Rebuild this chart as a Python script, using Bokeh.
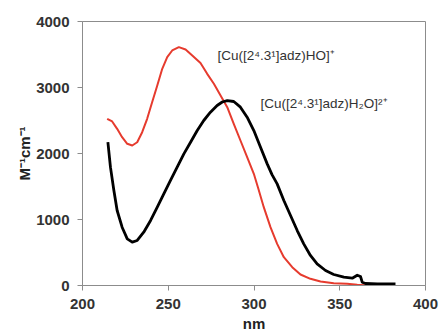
from bokeh.plotting import figure
from bokeh.models import Label, FixedTicker, Range1d
from bokeh.embed import file_html
from bokeh.resources import INLINE

# Red curve: [Cu([2^4.3^1]adz)HO]+
red_nm = [214.4, 217.3, 220.2, 223.1, 226.1, 229.0, 231.9, 234.8, 237.7, 240.6, 243.6, 246.5,
          249.4, 252.3, 256.2, 260.1, 264.0, 268.8, 272.7, 276.6, 280.5, 284.4, 288.2, 292.1,
          296.0, 299.9, 302.5, 305.7, 309.6, 313.5, 317.4, 322.3, 327.1, 332.9, 338.8, 346.5,
          354.3, 360.2, 366.0]
red_eps = [2526, 2485, 2374, 2247, 2147, 2121, 2171, 2323, 2526, 2777, 3030, 3283,
           3459, 3561, 3611, 3576, 3485, 3370, 3207, 3056, 2879, 2702, 2450, 2197,
           1944, 1692, 1470, 1187, 884, 631, 429, 278, 167, 101, 61, 35,
           25, 10, 0]

# Black curve: [Cu([2^4.3^1]adz)H2O]2+
blk_nm = [214.8, 216.3, 218.3, 220.2, 223.1, 226.1, 229.0, 231.9, 235.7, 239.7, 243.6, 247.4,
          251.3, 255.2, 259.1, 263.0, 266.9, 270.7, 274.6, 278.5, 281.5, 284.4, 288.2, 292.1,
          296.0, 299.9, 303.8, 307.7, 310.5, 313.5, 317.4, 321.3, 325.2, 329.0, 332.9, 336.8,
          341.7, 346.5, 352.4, 357.3, 360.2, 362.1, 363.1, 365.0, 372.0, 382.5]
blk_eps = [2171, 1793, 1439, 1136, 883, 707, 657, 682, 808, 985, 1187, 1389,
           1591, 1793, 1995, 2171, 2348, 2500, 2626, 2727, 2780, 2800, 2788, 2702,
           2550, 2348, 2096, 1843, 1680, 1540, 1288, 1061, 833, 631, 455, 328,
           227, 167, 126, 111, 155, 136, 50, 30, 25, 25]

x_ticks = [200, 250, 300, 350, 400]
y_ticks = [0, 1000, 2000, 3000, 4000]

label_red = "[Cu([2\u2074.3\u00b9]adz)HO]\u207a"
label_blk = "[Cu([2\u2074.3\u00b9]adz)H\u2082O]\u00b2\u207a"

p = figure(width=439, height=334, output_backend="svg", toolbar_location=None,
           x_range=Range1d(200, 400), y_range=Range1d(0, 4000),
           min_border_left=82, min_border_right=14, min_border_top=21, min_border_bottom=49)
p.background_fill_color = "white"
p.border_fill_color = "white"
p.outline_line_color = "#8c8c8c"
p.outline_line_width = 1
p.xgrid.visible = False
p.ygrid.visible = False

p.line(red_nm, red_eps, line_color="#e63b2e", line_width=2, line_join="round")
p.line(blk_nm, blk_eps, line_color="black", line_width=2.8, line_join="round")

for ax in (p.xaxis[0], p.yaxis[0]):
    ax.axis_line_color = "#8c8c8c"
    ax.major_tick_line_color = "#8c8c8c"
    ax.major_tick_out = 5
    ax.major_tick_in = 0
    ax.minor_tick_line_color = None
    ax.major_label_text_font = "Liberation Sans"
    ax.major_label_text_font_style = "bold"
    ax.major_label_text_font_size = "15px"
    ax.major_label_text_color = "#333333"
    ax.axis_label_text_font = "Liberation Sans"
    ax.axis_label_text_font_style = "bold"
    ax.axis_label_text_font_size = "15px"
    ax.axis_label_text_color = "#222222"

p.xaxis.ticker = FixedTicker(ticks=x_ticks)
p.yaxis.ticker = FixedTicker(ticks=y_ticks)
p.xaxis.axis_label = "nm"
p.yaxis.axis_label = "M\u207b\u00b9cm\u207b\u00b9"
p.xaxis.major_label_standoff = 8
p.yaxis.major_label_standoff = 8
p.xaxis.axis_label_standoff = 3
p.yaxis.axis_label_standoff = 0

p.add_layout(Label(x=278.7, y=3485, text=label_red, text_font="Liberation Sans",
                   text_font_size="13.5px", text_color="#333333", text_baseline="middle",
                   text_align="left"))
p.add_layout(Label(x=303.8, y=2758, text=label_blk, text_font="Liberation Sans",
                   text_font_size="13.5px", text_color="#333333", text_baseline="middle",
                   text_align="left"))

open("out.html", "w").write(file_html(p, INLINE))
